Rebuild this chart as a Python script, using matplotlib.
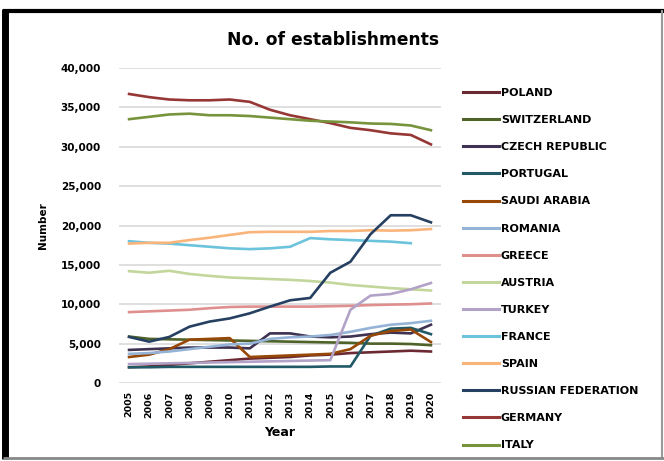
import matplotlib
matplotlib.use("Agg")
import matplotlib.pyplot as plt
from matplotlib.lines import Line2D

plt.rcParams['font.family'] = ['DejaVu Sans']

years = list(range(2005, 2021))

poland = [2000, 2100, 2300, 2500, 2700, 2900, 3100, 3200, 3300, 3500, 3600, 3800, 3900, 4000, 4100, 4000]
switzerland = [5900, 5600, 5550, 5500, 5450, 5400, 5350, 5300, 5250, 5200, 5150, 5100, 5000, 5000, 4950, 4800]
czech_republic = [4200, 4300, 4400, 4500, 4500, 4500, 4400, 6300, 6300, 5900, 5800, 5900, 6200, 6400, 6300, 7400]
portugal = [2000, 2000, 2050, 2050, 2050, 2050, 2050, 2050, 2050, 2050, 2100, 2100, 6000, 6900, 7000, 6200]
saudi_arabia = [3300, 3600, 4300, 5500, 5600, 5700, 3300, 3400, 3500, 3600, 3700, 4300, 6000, 6600, 6800, 5200]
romania = [3700, 3800, 4000, 4300, 4600, 4900, 5000, 5600, 5800, 5900, 6100, 6500, 7000, 7400, 7600, 7900]
greece = [9000, 9100, 9200, 9300, 9500, 9650, 9700, 9700, 9700, 9700, 9750, 9800, 9900, 9950, 10000, 10100]
austria = [14200, 14000, 14250, 13850, 13600, 13400, 13300, 13200, 13100, 12950, 12750, 12450, 12250, 12050, 11900, 11750]
turkey = [2400, 2450, 2500, 2550, 2600, 2650, 2700, 2750, 2800, 2850, 2900, 9300, 11100, 11300, 11900, 12700]
france = [18000, 17800, 17700, 17500, 17300, 17100, 17000, 17100, 17300, 18400, 18250, 18150, 18050, 17950, 17750, None]
spain = [17700, 17800, 17800, 18150, 18450, 18800, 19150, 19200, 19200, 19200, 19300, 19300, 19400, 19350, 19400, 19550]
russian_federation = [5850, 5250, 5850, 7150, 7800, 8200, 8850, 9700, 10500, 10800, 14000, 15400, 18900, 21300, 21300, 20400]
germany = [36700, 36300, 36000, 35900, 35900, 36000, 35700, 34700, 34000, 33500, 33000, 32400, 32100, 31700, 31500, 30300]
italy = [33500, 33800, 34100, 34200, 34000, 34000, 33900, 33700, 33500, 33300, 33200, 33100, 32950, 32900, 32700, 32100]

series = [
    ("POLAND", poland, "#6b2a33"),
    ("SWITZERLAND", switzerland, "#4f6228"),
    ("CZECH REPUBLIC", czech_republic, "#3f3151"),
    ("PORTUGAL", portugal, "#215967"),
    ("SAUDI ARABIA", saudi_arabia, "#974806"),
    ("ROMANIA", romania, "#95b3d7"),
    ("GREECE", greece, "#e08f8f"),
    ("AUSTRIA", austria, "#c3d69b"),
    ("TURKEY", turkey, "#b3a2c7"),
    ("FRANCE", france, "#6cc3dc"),
    ("SPAIN", spain, "#f9b47a"),
    ("RUSSIAN FEDERATION", russian_federation, "#254061"),
    ("GERMANY", germany, "#953735"),
    ("ITALY", italy, "#77933c"),
]

fig = plt.figure(figsize=(6.64, 4.61), dpi=100)
ax = fig.add_axes([119 / 664, 1 - 383 / 461, 322 / 664, 315 / 461])

x = list(range(len(years)))
handles = []
for name, vals, color in series:
    xs = [i for i, v in zip(x, vals) if v is not None]
    ys = [v for v in vals if v is not None]
    ax.plot(xs, ys, color=color, lw=1.9, solid_joinstyle='round')
    handles.append(Line2D([], [], color=color, lw=2.2))

ax.set_xlim(-0.5, len(years) - 0.5)
ax.set_ylim(0, 40000)
ax.set_yticks(range(0, 40001, 5000))
ax.set_yticklabels([f"{v:,}" for v in range(0, 40001, 5000)], fontsize=7.5, fontweight='bold')
ax.set_xticks(x)
ax.set_xticklabels([str(y) for y in years], rotation=90, fontsize=6.8, fontweight='bold')
ax.tick_params(length=0, pad=6)
ax.tick_params(axis='y', pad=13)
ax.grid(axis='y', color='#d9d9d9', lw=1.2)
ax.set_axisbelow(True)
for s in ax.spines.values():
    s.set_visible(False)

ax.set_xlabel("Year", fontsize=9, fontweight='bold', labelpad=6)
ax.set_ylabel("Number", fontsize=7.5, fontweight='bold', labelpad=9)

fig.text(333 / 664, 1 - 40 / 461, "No. of establishments", ha='center', va='center',
         fontsize=12.3, fontweight='bold')

fig.legend(handles, [s[0] for s in series], loc='upper left',
           bbox_to_anchor=(453 / 664, 1 - 78 / 461), frameon=False,
           handlelength=3.2, handletextpad=0.2, labelspacing=1.54,
           prop={'size': 8, 'weight': 'bold'})

# outer frame: heavy black on left/top, lighter on right/bottom
W, H = 664, 461
def frame_line(x0, y0, x1, y1, color, lw):
    fig.add_artist(Line2D([x0 / W, x1 / W], [1 - y0 / H, 1 - y1 / H],
                          transform=fig.transFigure, color=color, lw=lw,
                          solid_capstyle='butt'))

frame_line(5, 9, 5, 459, 'black', 5)
frame_line(3, 11, 664, 11, 'black', 3)
frame_line(662, 10, 662, 459, '#999999', 1.5)
frame_line(3, 458, 664, 458, '#888888', 2)

fig.savefig("out.png", dpi=100)
